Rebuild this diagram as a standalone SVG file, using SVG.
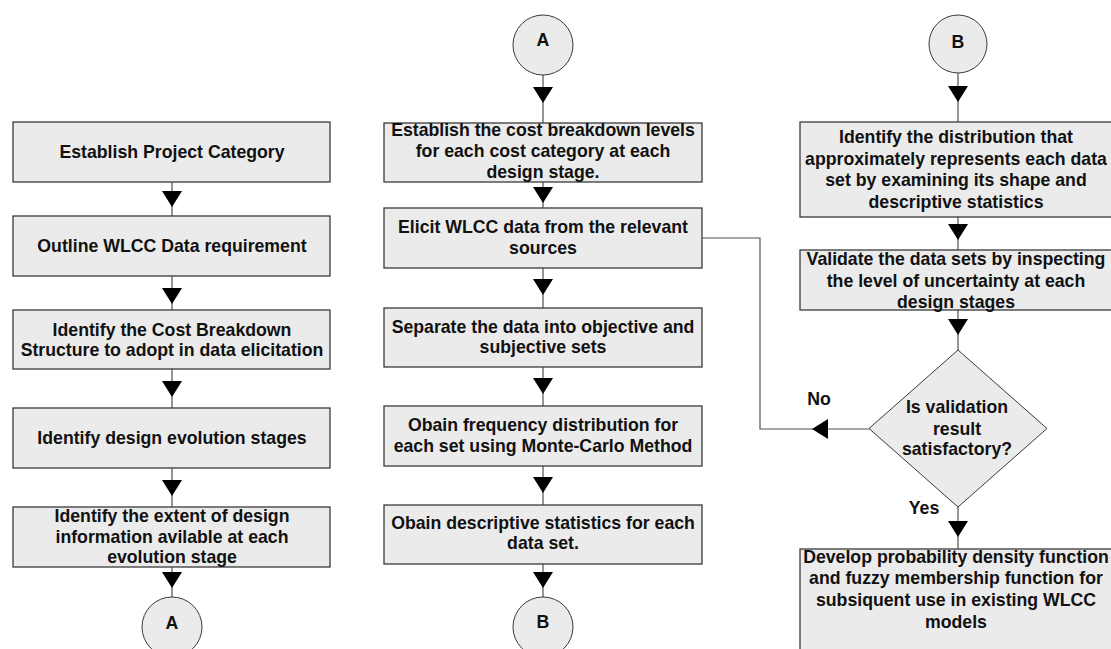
<svg xmlns="http://www.w3.org/2000/svg" width="1111" height="649" viewBox="0 0 1111 649">
<defs>
<marker id="ah" markerUnits="userSpaceOnUse" markerWidth="16" markerHeight="20" viewBox="0 0 16 20" refX="16" refY="10" orient="auto">
<path d="M0,0 L16,10 L0,20 z" fill="#000"/>
</marker>
</defs>
<style>
.box{fill:#ebebeb;stroke:#3a3a3a;stroke-width:1.3}
.term{fill:#ebebeb;stroke:#3a3a3a;stroke-width:1}
.t{font-family:"Liberation Sans",Arial,sans-serif;font-weight:bold;font-size:17.7px;fill:#111;text-anchor:middle}
.c{fill:none;stroke:#505050;stroke-width:1.2}
.ca{fill:none;stroke:#505050;stroke-width:1.2;marker-end:url(#ah)}
</style>
<rect width="1111" height="649" fill="#fff"/>

<g id="connectors">
<path class="ca" d="M172,182 V207"/><path class="c" d="M172,207 V216"/>
<path class="ca" d="M172,276 V304"/><path class="c" d="M172,304 V310"/>
<path class="ca" d="M172,369 V397"/><path class="c" d="M172,397 V408"/>
<path class="ca" d="M172,468 V496"/><path class="c" d="M172,496 V507"/>
<path class="ca" d="M172,567 V588"/><path class="c" d="M172,588 V597"/>

<path class="ca" d="M543,75 V103"/><path class="c" d="M543,103 V123"/>
<path class="ca" d="M543,182 V203"/><path class="c" d="M543,203 V208"/>
<path class="ca" d="M543,268 V295"/><path class="c" d="M543,295 V308"/>
<path class="ca" d="M543,367 V394"/><path class="c" d="M543,394 V406"/>
<path class="ca" d="M543,466 V493"/><path class="c" d="M543,493 V505"/>
<path class="ca" d="M543,564 V588"/><path class="c" d="M543,588 V597"/>

<path class="ca" d="M958,73 V102"/><path class="c" d="M958,102 V122"/>
<path class="ca" d="M958,217 V240"/><path class="c" d="M958,240 V250"/>
<path class="ca" d="M958,310 V335"/><path class="c" d="M958,335 V350"/>
<path class="ca" d="M958,507 V537"/><path class="c" d="M958,537 V549"/>

<path class="ca" d="M869,429 H812"/><path class="c" d="M812,429 H760 V238 H702"/>
<text class="t" x="819" y="405">No</text>
<text class="t" x="924" y="514">Yes</text>
</g>

<g id="n_l1"><rect class="box" x="13" y="122" width="317" height="60"/><text class="t" x="172" y="158">Establish Project Category</text></g>
<g id="n_l2"><rect class="box" x="13" y="216" width="317" height="60"/><text class="t" x="172" y="252">Outline WLCC Data requirement</text></g>
<g id="n_l3"><rect class="box" x="13" y="310" width="317" height="59"/><text class="t" x="172" y="336">Identify the Cost Breakdown</text><text class="t" x="172" y="356">Structure to adopt in data elicitation</text></g>
<g id="n_l4"><rect class="box" x="13" y="408" width="317" height="60"/><text class="t" x="172" y="444">Identify design evolution stages</text></g>
<g id="n_l5"><rect class="box" x="13" y="507" width="317" height="60"/><text class="t" x="172" y="522">Identify the extent of design</text><text class="t" x="172" y="543">information avilable at each</text><text class="t" x="172" y="563">evolution stage</text></g>
<g id="n_a1"><circle class="term" cx="172" cy="627" r="30"/><text class="t" x="172" y="629">A</text></g>

<g id="n_a2"><circle class="term" cx="543" cy="45" r="30"/><text class="t" x="543" y="46">A</text></g>
<g id="n_m1"><rect class="box" x="384" y="123" width="318" height="59"/><text class="t" x="543" y="136">Establish the cost breakdown levels</text><text class="t" x="543" y="157">for each cost category at each</text><text class="t" x="543" y="178">design stage.</text></g>
<g id="n_m2"><rect class="box" x="384" y="208" width="318" height="60"/><text class="t" x="543" y="233">Elicit WLCC data from the relevant</text><text class="t" x="543" y="254">sources</text></g>
<g id="n_m3"><rect class="box" x="384" y="308" width="318" height="59"/><text class="t" x="543" y="333">Separate the data into objective and</text><text class="t" x="543" y="353">subjective sets</text></g>
<g id="n_m4"><rect class="box" x="384" y="406" width="318" height="60"/><text class="t" x="543" y="431">Obain frequency distribution for</text><text class="t" x="543" y="452">each set using Monte-Carlo Method</text></g>
<g id="n_m5"><rect class="box" x="384" y="505" width="318" height="59"/><text class="t" x="543" y="529">Obain descriptive statistics for each</text><text class="t" x="543" y="549">data set.</text></g>
<g id="n_b1"><circle class="term" cx="543" cy="627" r="30"/><text class="t" x="543" y="628">B</text></g>

<g id="n_b2"><circle class="term" cx="958" cy="44" r="29"/><text class="t" x="958" y="48">B</text></g>
<g id="n_r1"><rect class="box" x="800" y="122" width="317" height="95"/><text class="t" x="956" y="143">Identify the distribution that</text><text class="t" x="956" y="164.5">approximately represents each data</text><text class="t" x="956" y="186">set by examining its shape and</text><text class="t" x="956" y="207.5">descriptive statistics</text></g>
<g id="n_r2"><rect class="box" x="800" y="250" width="317" height="60"/><text class="t" x="956" y="265">Validate the data sets by inspecting</text><text class="t" x="956" y="286.5">the level of uncertainty at each</text><text class="t" x="956" y="308">design stages</text></g>
<g id="n_d"><polygon class="box" points="958,350 1047,428.5 958,507 869,428.5" style="stroke-width:1"/><text class="t" x="957" y="413">Is validation</text><text class="t" x="957" y="435">result</text><text class="t" x="957" y="455">satisfactory?</text></g>
<g id="n_r3"><rect class="box" x="800" y="549" width="317" height="120"/><text class="t" x="956" y="563">Develop probability density function</text><text class="t" x="956" y="584">and fuzzy membership function for</text><text class="t" x="956" y="606">subsiquent use in existing WLCC</text><text class="t" x="956" y="628">models</text></g>
</svg>
